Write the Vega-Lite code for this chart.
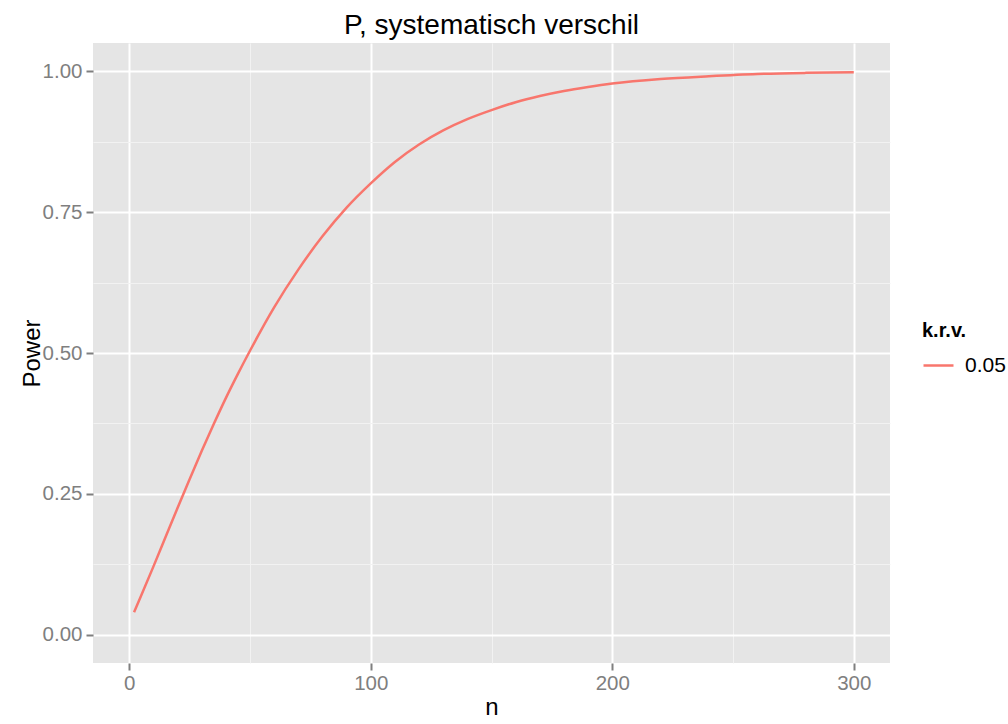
{
  "$schema": "https://vega.github.io/schema/vega-lite/v6.json",
  "width": 797,
  "height": 620,
  "autosize": {"type": "none"},
  "padding": {"left": 93, "top": 43, "right": 118, "bottom": 61},
  "background": "white",
  "config": {
    "font": "Liberation Sans",
    "view": {"fill": "#E5E5E5", "stroke": null}
  },
  "title": {
    "text": "P, systematisch verschil",
    "fontSize": 28,
    "fontWeight": "normal",
    "font": "Liberation Sans",
    "color": "black",
    "anchor": "middle",
    "baseline": "bottom",
    "offset": 4,
    "dy": 29
  },
  "data": {
    "values": [
      {"n": 2, "power": 0.040, "krv": "0.05"},
      {"n": 5, "power": 0.070, "krv": "0.05"},
      {"n": 10, "power": 0.121, "krv": "0.05"},
      {"n": 15, "power": 0.173, "krv": "0.05"},
      {"n": 20, "power": 0.225, "krv": "0.05"},
      {"n": 25, "power": 0.276, "krv": "0.05"},
      {"n": 30, "power": 0.326, "krv": "0.05"},
      {"n": 35, "power": 0.374, "krv": "0.05"},
      {"n": 40, "power": 0.420, "krv": "0.05"},
      {"n": 45, "power": 0.463, "krv": "0.05"},
      {"n": 50, "power": 0.504, "krv": "0.05"},
      {"n": 60, "power": 0.581, "krv": "0.05"},
      {"n": 70, "power": 0.648, "krv": "0.05"},
      {"n": 80, "power": 0.707, "krv": "0.05"},
      {"n": 90, "power": 0.758, "krv": "0.05"},
      {"n": 100, "power": 0.801, "krv": "0.05"},
      {"n": 110, "power": 0.839, "krv": "0.05"},
      {"n": 120, "power": 0.870, "krv": "0.05"},
      {"n": 130, "power": 0.895, "krv": "0.05"},
      {"n": 140, "power": 0.915, "krv": "0.05"},
      {"n": 150, "power": 0.931, "krv": "0.05"},
      {"n": 160, "power": 0.945, "krv": "0.05"},
      {"n": 170, "power": 0.956, "krv": "0.05"},
      {"n": 180, "power": 0.965, "krv": "0.05"},
      {"n": 190, "power": 0.972, "krv": "0.05"},
      {"n": 200, "power": 0.978, "krv": "0.05"},
      {"n": 220, "power": 0.986, "krv": "0.05"},
      {"n": 240, "power": 0.991, "krv": "0.05"},
      {"n": 260, "power": 0.995, "krv": "0.05"},
      {"n": 280, "power": 0.997, "krv": "0.05"},
      {"n": 300, "power": 0.998, "krv": "0.05"}
    ]
  },
  "mark": {"type": "line", "strokeWidth": 2.5, "interpolate": "monotone"},
  "encoding": {
    "x": {
      "field": "n",
      "type": "quantitative",
      "scale": {"domain": [-15, 315], "nice": false, "zero": false},
      "axis": {
        "title": "n",
        "values": [0, 50, 100, 150, 200, 250, 300],
        "labelExpr": "datum.value % 100 === 0 ? datum.label : ''",
        "domain": false,
        "grid": true,
        "gridColor": {"condition": {"test": "datum.value % 100 === 0", "value": "#FFFFFF"}, "value": "#F2F2F2"},
        "gridWidth": {"condition": {"test": "datum.value % 100 === 0", "value": 2}, "value": 1},
        "tickOpacity": {"condition": {"test": "datum.value % 100 === 0", "value": 1}, "value": 0},
        "tickColor": "#7F7F7F",
        "tickSize": 7,
        "tickWidth": 2,
        "labelFontSize": 20.5,
        "labelColor": "#7F7F7F",
        "labelPadding": 3,
        "labelFlush": false,
        "titleFontSize": 24,
        "titleFontWeight": "normal",
        "titleColor": "black",
        "titlePadding": 2
      }
    },
    "y": {
      "field": "power",
      "type": "quantitative",
      "scale": {"domain": [-0.05, 1.05], "nice": false, "zero": false},
      "axis": {
        "title": "Power",
        "values": [0, 0.125, 0.25, 0.375, 0.5, 0.625, 0.75, 0.875, 1],
        "format": ".2f",
        "labelExpr": "indexof([0, 0.25, 0.5, 0.75, 1], datum.value) >= 0 ? datum.label : ''",
        "domain": false,
        "grid": true,
        "gridColor": {"condition": {"test": "indexof([0, 0.25, 0.5, 0.75, 1], datum.value) >= 0", "value": "#FFFFFF"}, "value": "#F2F2F2"},
        "gridWidth": {"condition": {"test": "indexof([0, 0.25, 0.5, 0.75, 1], datum.value) >= 0", "value": 2}, "value": 1},
        "tickOpacity": {"condition": {"test": "indexof([0, 0.25, 0.5, 0.75, 1], datum.value) >= 0", "value": 1}, "value": 0},
        "tickColor": "#7F7F7F",
        "tickSize": 7,
        "tickWidth": 2,
        "labelFontSize": 20.5,
        "labelColor": "#7F7F7F",
        "labelPadding": 4,
        "labelFlush": false,
        "titleFontSize": 24,
        "titleFontWeight": "normal",
        "titleColor": "black",
        "titlePadding": -2
      }
    },
    "color": {
      "field": "krv",
      "type": "nominal",
      "scale": {"range": ["#F8766D"]},
      "legend": {
        "title": "k.r.v.",
        "orient": "none",
        "legendX": 829,
        "legendY": 278,
        "titleFontSize": 20,
        "titleFontWeight": "bold",
        "titleColor": "black",
        "titlePadding": 8,
        "labelFontSize": 21,
        "labelColor": "black",
        "labelOffset": 10,
        "symbolType": "stroke",
        "symbolStrokeWidth": 2.5,
        "symbolSize": 900
      }
    }
  }
}
